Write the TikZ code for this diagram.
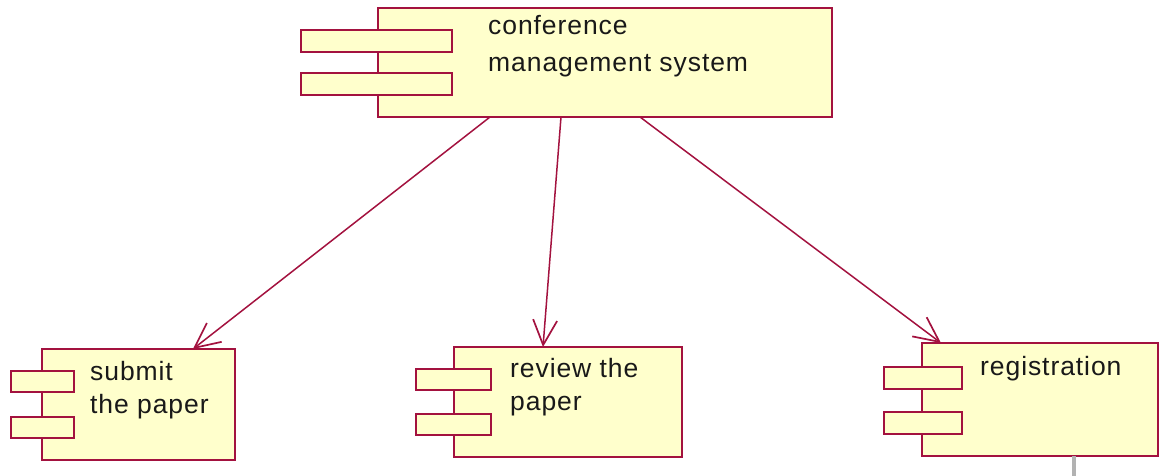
\documentclass[tikz,border=0pt]{standalone}
\usepackage{fontspec}
\setmainfont{Liberation Sans}[LetterSpace=3.5]
\usetikzlibrary{arrows.meta,calc}
\definecolor{umlred}{HTML}{A3123F}
\definecolor{umlfill}{HTML}{FFFFCC}
\tikzset{
  comp/.style={draw=umlred, fill=umlfill, line width=2.4pt, rectangle, inner sep=0pt, outer sep=0pt, anchor=north west},
  port/.style={draw=umlred, fill=umlfill, line width=2.4pt, rectangle, inner sep=0pt, outer sep=0pt, anchor=north west},
  lbl/.style={anchor=base west, inner sep=0pt, font=\fontsize{26.5}{30}\selectfont, text=black!90},
  dep/.style={draw=umlred, line width=1.5pt, -{Straight Barb[length=25pt,width=24pt,line width=1.7pt]}},
}
\begin{document}
\begin{tikzpicture}[x=1pt,y=-1pt]
\useasboundingbox (0,0) rectangle (1160,476);
% top component
\node[comp, minimum width=454pt, minimum height=109pt] (sys) at (378,8) {};
\node[port, minimum width=151pt, minimum height=22pt] (sysp1) at (301,30) {};
\node[port, minimum width=151pt, minimum height=22pt] (sysp2) at (301,73) {};
\node[lbl] (syst1) at (488,35) {conference};
\node[lbl] (syst2) at (488,72) {management system};
% submit
\node[comp, minimum width=193pt, minimum height=111pt] (sub) at (42,349) {};
\node[port, minimum width=63pt, minimum height=21pt] (subp1) at (11,371) {};
\node[port, minimum width=63pt, minimum height=21pt] (subp2) at (11,417) {};
\node[lbl] (subt1) at (90,380) {submit};
\node[lbl] (subt2) at (90,413) {the paper};
% review
\node[comp, minimum width=228pt, minimum height=110pt] (rev) at (454,347) {};
\node[port, minimum width=75pt, minimum height=21pt] (revp1) at (416,369) {};
\node[port, minimum width=75pt, minimum height=21pt] (revp2) at (416,414) {};
\node[lbl] (revt1) at (510,377) {review the};
\node[lbl] (revt2) at (510,410) {paper};
% registration
\node[comp, minimum width=236pt, minimum height=113pt] (reg) at (922,343) {};
\node[port, minimum width=78pt, minimum height=22pt] (regp1) at (884,367) {};
\node[port, minimum width=78pt, minimum height=22pt] (regp2) at (884,412) {};
\node[lbl] (regt1) at (980,375) {registration};
% connectors
\coordinate (a1) at ($(sys.south west)+(112,0)$);
\coordinate (a2) at ($(sys.south west)+(183,0)$);
\coordinate (a3) at ($(sys.south west)+(262,0)$);
\coordinate (b1) at ($(sub.north west)+(151,0)$);
\coordinate (b2) at ($(rev.north west)+(89,0)$);
\coordinate (b3) at ($(reg.north west)+(19,0)$);
\draw[dep] (a1) -- (b1);
\draw[dep] (a2) -- (b2);
\draw[dep] (a3) -- (b3);
\coordinate (g1) at ($(reg.south west)+(152,0)$);
\coordinate (g2) at (1074,476);
\draw[gray!60, line width=3.5pt] (g1) -- (g2);
\end{tikzpicture}
\end{document}
